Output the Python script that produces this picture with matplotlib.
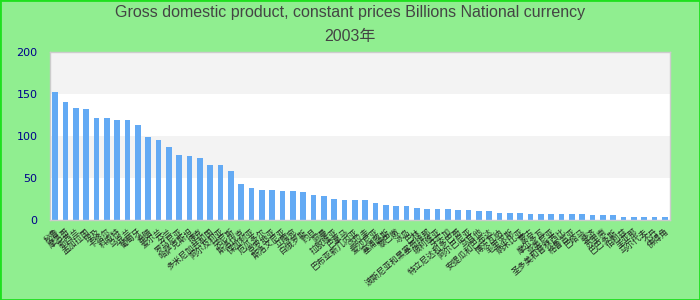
import matplotlib
matplotlib.use("Agg")
import matplotlib.pyplot as plt
from matplotlib.patches import Rectangle

plt.rcParams['font.family'] = ['Liberation Sans', 'Noto Sans CJK SC', 'DejaVu Sans']

title = "Gross domestic product, constant prices Billions National currency"
subtitle = "2003年"

# country names (ordered by value, descending)
countries = ["秘鲁", "摩洛哥", "新西兰", "孟加拉国", "埃及", "卡塔尔", "科威特", "乌克兰",
             "葡萄牙", "希腊", "爱尔兰", "芬兰", "罗马尼亚", "哈萨克斯坦", "捷克",
             "多米尼加共和国", "阿尔及利亚", "突尼斯", "斯洛伐克", "保加利亚", "厄瓜多尔",
             "克罗地亚", "斯洛文尼亚", "立陶宛", "白俄罗斯", "约旦", "阿曼", "拉脱维亚",
             "巴拿马", "巴布亚新几内亚", "乌拉圭", "爱沙尼亚", "塞浦路斯", "黎巴嫩", "冰岛",
             "巴林", "波斯尼亚和黑塞哥维那", "玻利维亚", "牙买加", "特立尼达和多巴哥",
             "阿尔巴尼亚", "马耳他", "安提瓜和巴布达", "博茨瓦纳", "毛里求斯", "纳米比亚",
             "蒙古", "摩尔多瓦", "亚美尼亚", "圣多美和普林西比", "格鲁吉亚", "巴哈马", "斐济",
             "苏里南", "巴巴多斯", "伯利兹", "圭亚那", "马尔代夫", "不丹", "佛得角"]

values = [152, 141, 133, 132, 121, 121, 119, 119, 113, 99, 95, 87, 77, 76, 74,
          66, 66, 58, 43, 38, 36, 36, 35, 35, 33, 30, 28, 25, 24, 24,
          24, 20, 18, 17, 17, 14, 13, 13, 13, 12, 12, 11, 11, 8.5, 8.5,
          8.5, 7, 7, 7, 7, 7, 7, 6, 6, 6, 3.5, 3.5, 3.5, 3.5, 3.5]

yticks = [0, 50, 100, 150, 200]

fig = plt.figure(figsize=(7, 3), dpi=100, facecolor='#90ee90')
ax = fig.add_axes([50/700, 80/300, 620/700, 168/300])
ax.set_facecolor('white')

# alternating grey bands
for lo in (50, 150):
    ax.axhspan(lo, lo + 50, color='#f3f3f3', zorder=0, lw=0)

x = list(range(len(values)))
ax.bar(x, values, width=0.58, color='#63aaf4', zorder=2)

ax.set_xlim(-0.5, len(values) - 0.5)
ax.set_ylim(0, 200)
ax.set_yticks(yticks)
ax.set_yticklabels([str(t) for t in yticks], color='#00008b', fontsize=8,
                   family=['DejaVu Sans'])
ax.set_xticks(x)
ax.set_xticklabels(countries, rotation=40, ha='right', va='top',
                   rotation_mode='anchor', fontsize=6, color='#222222',
                   family=['Noto Sans CJK SC', 'DejaVu Sans'])
ax.tick_params(axis='both', length=0)
ax.tick_params(axis='y', pad=9)
ax.tick_params(axis='x', pad=5)
for s in ax.spines.values():
    s.set_color('#cccccc')
    s.set_linewidth(1)

fig.text(0.5, 1 - 13/300, title, ha='center', va='center', fontsize=11.5, color='#444444')
fig.text(0.5, 1 - 37/300, subtitle, ha='center', va='center', fontsize=11.5, color='#444444')

# outer border
fig.patches.append(Rectangle((0, 0), 1, 1, transform=fig.transFigure, fill=False,
                             edgecolor='#1ee01e', linewidth=2))

fig.savefig('out.png', dpi=100, facecolor=fig.get_facecolor())
